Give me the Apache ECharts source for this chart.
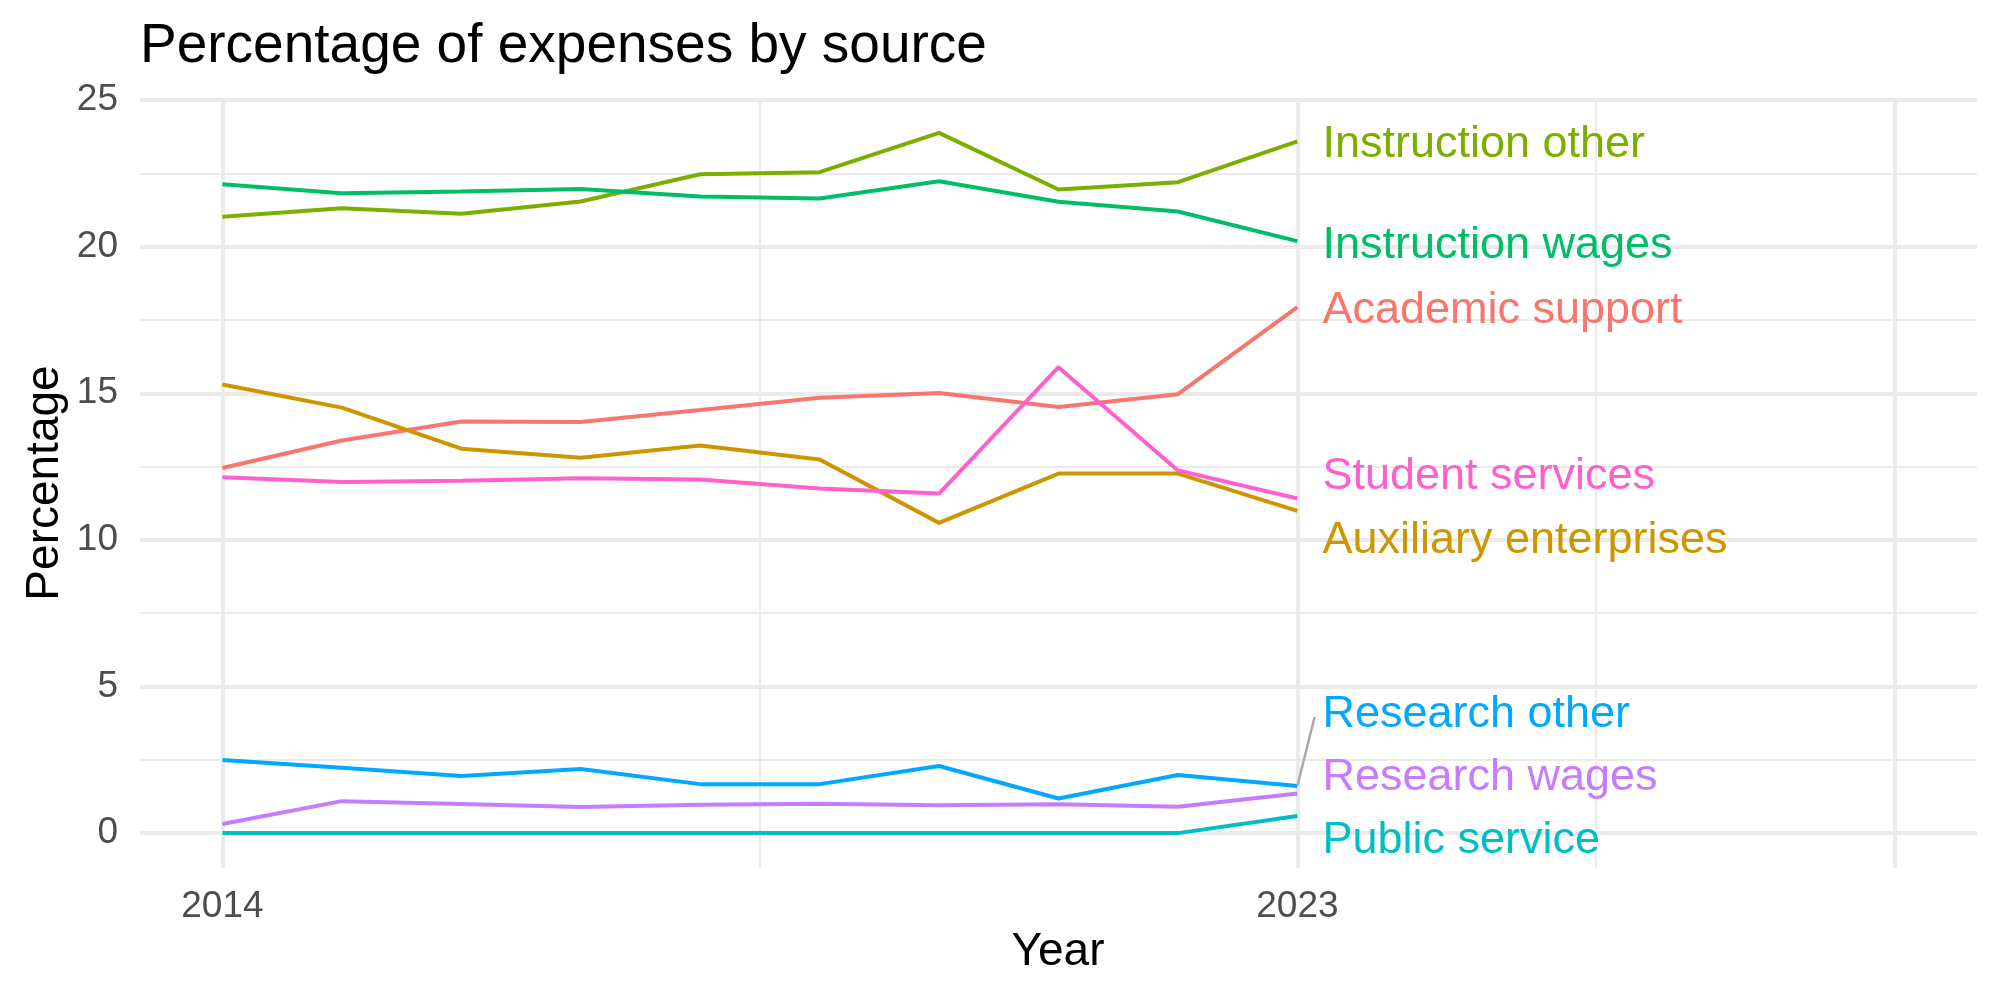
<!DOCTYPE html>
<html>
<head>
<meta charset="utf-8">
<script src="https://cdn.jsdelivr.net/npm/echarts@6/dist/echarts.min.js"></script>
<style>
  html, body { margin: 0; padding: 0; background: #fff; }
  #chart { width: 2000px; height: 1000px; }
</style>
</head>
<body>
<div id="chart"></div>
<script>
// values, 2014..2023
var years = [2014, 2015, 2016, 2017, 2018, 2019, 2020, 2021, 2022, 2023];
var academicSupport = [12.45, 13.39, 14.04, 14.02, 14.43, 14.85, 15.01, 14.53, 14.97, 17.94];
var auxiliaryEnterprises = [15.30, 14.51, 13.11, 12.80, 13.22, 12.74, 10.58, 12.26, 12.26, 10.99];
var instructionOther = [21.02, 21.31, 21.12, 21.54, 22.47, 22.54, 23.88, 21.95, 22.20, 23.59];
var instructionWages = [22.13, 21.82, 21.88, 21.97, 21.71, 21.64, 22.23, 21.53, 21.20, 20.19];
var publicService = [0, 0, 0, 0, 0, 0, 0, 0, 0, 0.58];
var researchOther = [2.49, 2.23, 1.95, 2.19, 1.67, 1.67, 2.29, 1.18, 1.98, 1.61];
var researchWages = [0.31, 1.09, 0.99, 0.89, 0.97, 1.00, 0.95, 0.98, 0.90, 1.35];
var studentServices = [12.14, 11.97, 12.02, 12.10, 12.06, 11.75, 11.58, 15.89, 12.37, 11.41];

var seriesNames = ["Academic support", "Auxiliary enterprises", "Instruction other", "Instruction wages",
  "Public service", "Research other", "Research wages", "Student services"];
var seriesValues = [academicSupport, auxiliaryEnterprises, instructionOther, instructionWages,
  publicService, researchOther, researchWages, studentServices];
var seriesColors = ["#F8766D", "#CD9600", "#7CAE00", "#00BE67", "#00BFC4", "#00A9FF", "#C77CFF", "#FF61CC"];

// repelled label heights (data units) at the right end
var labelY = [17.93, 10.07, 23.58, 20.14, -0.14, 4.15, 1.99, 12.25];
var segmentEnd = [2023.144, 3.96]; // leader line for "Research other"

// axis breaks
var xTicks = [2014, 2023];
var xMajor = [2014, 2023, 2028];
var xMinor = [2018.5, 2025.5];
var yTicks = [0, 5, 10, 15, 20, 25];
var yMinor = [2.5, 7.5, 12.5, 17.5, 22.5];

var FONT = "'Liberation Sans', Arial, Helvetica, sans-serif";
var chart = echarts.init(document.getElementById("chart"));

var gridLines = [];
xMajor.forEach(function (v) { gridLines.push({ xAxis: v, lineStyle: { width: 4 } }); });
xMinor.forEach(function (v) { gridLines.push({ xAxis: v, lineStyle: { width: 2 } }); });
yTicks.forEach(function (v) { gridLines.push({ yAxis: v, lineStyle: { width: 4 } }); });
yMinor.forEach(function (v) { gridLines.push({ yAxis: v, lineStyle: { width: 2 } }); });

var series = [{
  type: "line",
  data: [],
  z: 0,
  silent: true,
  markLine: {
    z: 0,
    silent: true,
    symbol: "none",
    animation: false,
    label: { show: false },
    lineStyle: { color: "#EBEBEB", type: "solid" },
    emphasis: { disabled: true },
    data: gridLines
  }
}];

seriesNames.forEach(function (name, i) {
  series.push({
    name: name,
    type: "line",
    z: 2,
    showSymbol: false,
    symbol: "none",
    lineStyle: { color: seriesColors[i], width: 4 },
    data: years.map(function (y, j) { return [y, seriesValues[i][j]]; })
  });
});

series.push({
  type: "line",
  z: 3,
  symbol: "none",
  lineStyle: { color: "#A9A9A9", width: 2.5 },
  data: [[years[years.length - 1], researchOther[researchOther.length - 1]], segmentEnd]
});

series.push({
  type: "scatter",
  z: 4,
  symbolSize: 0,
  itemStyle: { opacity: 1 },
  data: seriesNames.map(function (name, i) {
    return {
      name: name,
      value: [years[years.length - 1], labelY[i]],
      label: { color: seriesColors[i] }
    };
  }),
  label: {
    show: true,
    position: "right",
    distance: 25,
    offset: [0, 3],
    formatter: "{b}",
    fontFamily: FONT,
    fontSize: 45,
    opacity: 1
  }
});

var option = {
  animation: false,
  backgroundColor: "#ffffff",
  grid: { left: 140, right: 23, top: 98, bottom: 132 },
  xAxis: {
    type: "value",
    min: 2013.31,
    max: 2028.69,
    axisLine: { show: false },
    axisTick: { show: false },
    splitLine: { show: false },
    axisLabel: {
      customValues: xTicks,
      formatter: function (v) { return String(v); },
      margin: 20,
      color: "#4D4D4D",
      fontFamily: FONT,
      fontSize: 37,
      showMinLabel: true,
      showMaxLabel: true
    }
  },
  yAxis: {
    type: "value",
    min: -1.19,
    max: 25.07,
    axisLine: { show: false },
    axisTick: { show: false },
    splitLine: { show: false },
    axisLabel: {
      customValues: yTicks,
      margin: 22,
      color: "#4D4D4D",
      fontFamily: FONT,
      fontSize: 37
    }
  },
  graphic: [
    {
      type: "text", x: 140, y: 47,
      style: { text: "Percentage of expenses by source", fill: "#000", font: "55px " + FONT,
        textAlign: "left", textVerticalAlign: "middle" }
    },
    {
      type: "text", x: 1058, y: 952,
      style: { text: "Year", fill: "#000", font: "46px " + FONT,
        textAlign: "center", textVerticalAlign: "middle" }
    },
    {
      type: "text", x: 45, y: 483, rotation: Math.PI / 2,
      style: { text: "Percentage", fill: "#000", font: "46px " + FONT,
        textAlign: "center", textVerticalAlign: "middle" }
    }
  ],
  series: series
};

chart.setOption(option);
</script>
</body>
</html>
